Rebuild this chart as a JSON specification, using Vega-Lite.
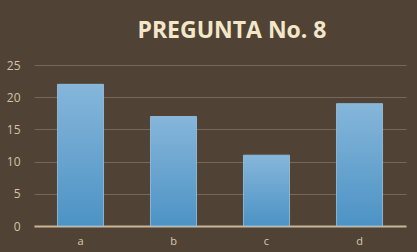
{
  "$schema": "https://vega.github.io/schema/vega-lite/v6.json",
  "width": 372,
  "height": 161,
  "autosize": "none",
  "padding": {"left": 34, "top": 65, "right": 11, "bottom": 26},
  "background": "#504336",
  "title": {
    "text": "PREGUNTA No. 8",
    "font": "Open Sans",
    "fontSize": 23,
    "fontWeight": "bold",
    "color": "#f4e7c9",
    "anchor": "middle",
    "limit": 0,
    "dx": 12,
    "offset": 16
  },
  "data": {
    "values": [
      {"opcion": "a", "valor": 22},
      {"opcion": "b", "valor": 17},
      {"opcion": "c", "valor": 11},
      {"opcion": "d", "valor": 19}
    ]
  },
  "mark": {
    "type": "bar",
    "color": {
      "gradient": "linear",
      "x1": 0, "y1": 0, "x2": 0, "y2": 1,
      "stops": [
        {"offset": 0, "color": "#86b6da"},
        {"offset": 1, "color": "#4c93c5"}
      ]
    },
    "stroke": "#9ac5e3",
    "strokeWidth": 0.8
  },
  "encoding": {
    "x": {
      "field": "opcion",
      "type": "nominal",
      "scale": {"paddingInner": 0.505, "paddingOuter": 0.2525},
      "axis": {
        "title": null,
        "labelAngle": 0,
        "ticks": false,
        "domain": true,
        "domainColor": "#c9b696",
        "domainWidth": 2,
        "labelColor": "#d9c9aa",
        "labelFont": "Open Sans",
        "labelFontSize": 11,
        "labelPadding": 9,
        "grid": false
      }
    },
    "y": {
      "field": "valor",
      "type": "quantitative",
      "scale": {"domain": [0, 25]},
      "axis": {
        "title": null,
        "values": [0, 5, 10, 15, 20, 25],
        "ticks": false,
        "domain": false,
        "grid": true,
        "gridColor": "#76675a",
        "gridWidth": 1,
        "labelColor": "#d2c2a2",
        "labelFont": "Open Sans",
        "labelFontSize": 12,
        "labelPadding": 14
      }
    }
  },
  "config": {
    "view": {"stroke": null}
  }
}
